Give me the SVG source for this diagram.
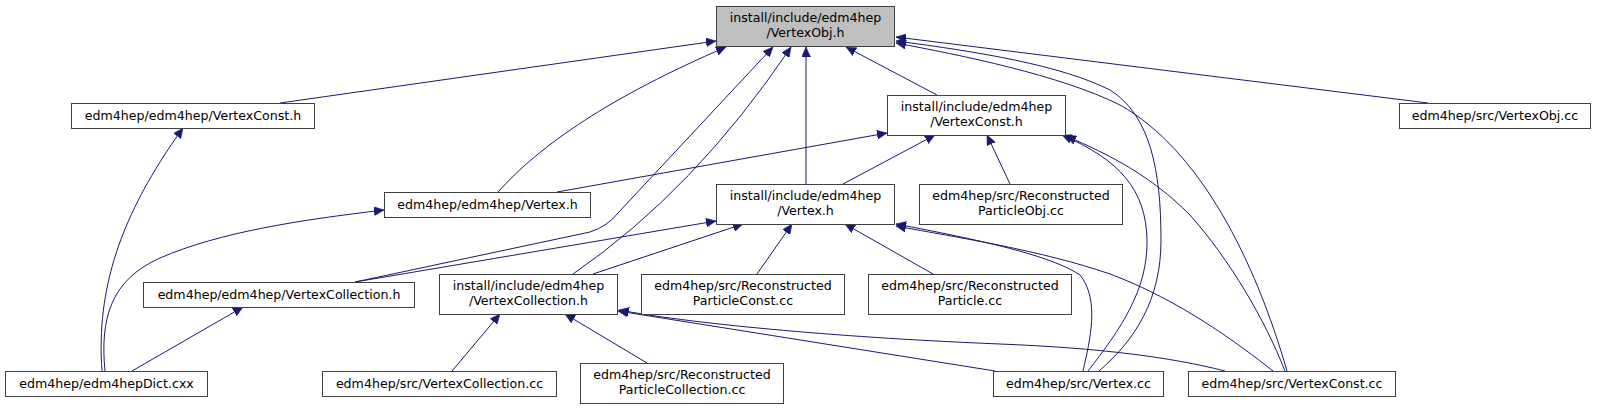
<svg xmlns="http://www.w3.org/2000/svg" width="1597" height="409" viewBox="0 0 1597 409">
<defs>
<style>
.node rect{fill:#ffffff;stroke:#404040;stroke-width:1}
.node.hl rect{fill:#bfbfbf}
.node text{font-family:"DejaVu Sans","Liberation Sans",sans-serif;font-size:12.6px;text-anchor:middle;fill:#000000}
.edge{fill:none;stroke:#191970;stroke-width:1;marker-end:url(#ah)}
</style>
<marker id="ah" viewBox="0 0 10 9" refX="10" refY="4.5" markerWidth="10" markerHeight="9" markerUnits="userSpaceOnUse" orient="auto">
<path d="M0,0 L10,4.5 L0,9 z" fill="#191970" stroke="#191970" stroke-width="0.5"/>
</marker>
</defs>
<rect x="0" y="0" width="1597" height="409" fill="#ffffff"/>
<g id="connectors">
<path class="edge" d="M280,103 L716,41"/>
<path class="edge" d="M498,192 C540,145 610,97 726,47"/>
<path class="edge" d="M355,282 L590,232 Q608,226 618,213 L773,47"/>
<path class="edge" d="M573,274 Q695,190 791,47"/>
<path class="edge" d="M806,184 L806,47"/>
<path class="edge" d="M937,95 L846,47"/>
<path class="edge" d="M1099,371 C1135,340 1161,300 1161,240 C1161,170 1150,115 1110,90 C1060,65 980,52 896,41"/>
<path class="edge" d="M1287,371 C1255,260 1200,150 1120,105 C1060,75 960,55 896,43"/>
<path class="edge" d="M1428,103 L896,37"/>
<path class="edge" d="M557,192 L887,133"/>
<path class="edge" d="M843,184 L935,135"/>
<path class="edge" d="M1010,184 L987,135"/>
<path class="edge" d="M1088,371 C1120,330 1148,290 1147,240 C1146,190 1120,160 1062,135"/>
<path class="edge" d="M1285,371 C1265,320 1230,260 1190,215 C1150,175 1110,155 1066,136"/>
<path class="edge" d="M102,371 C96,290 120,215 183,128"/>
<path class="edge" d="M105,371 C100,320 110,280 160,258 C220,232 300,220 384,210"/>
<path class="edge" d="M355,282 L716,221"/>
<path class="edge" d="M593,274 L743,224"/>
<path class="edge" d="M757,274 L792,224"/>
<path class="edge" d="M933,274 L845,224"/>
<path class="edge" d="M1083,371 C1090,340 1100,300 1080,275 C1050,255 980,240 896,224"/>
<path class="edge" d="M1273,371 C1240,345 1180,300 1110,274 C1040,250 960,238 896,226"/>
<path class="edge" d="M132,371 L243,307"/>
<path class="edge" d="M452,371 L500,314"/>
<path class="edge" d="M647,363 L565,314"/>
<path class="edge" d="M995,371 L618,311"/>
<path class="edge" d="M1225,371 C1170,357 1100,348 1000,344 C850,338 700,325 619,310"/>
</g>
<g id="n0" class="node hl"><rect x="716.5" y="6.5" width="178" height="40"/><text x="805.5" y="22">install/include/edm4hep</text><text x="805.5" y="37">/VertexObj.h</text></g>
<g id="n1" class="node"><rect x="71.5" y="103.5" width="243" height="25"/><text x="193" y="120">edm4hep/edm4hep/VertexConst.h</text></g>
<g id="n2" class="node"><rect x="887.5" y="95.5" width="178" height="40"/><text x="976.5" y="111">install/include/edm4hep</text><text x="976.5" y="126">/VertexConst.h</text></g>
<g id="n3" class="node"><rect x="1399.5" y="103.5" width="191" height="25"/><text x="1495" y="120">edm4hep/src/VertexObj.cc</text></g>
<g id="n4" class="node"><rect x="384.5" y="192.5" width="206" height="25"/><text x="487.5" y="209">edm4hep/edm4hep/Vertex.h</text></g>
<g id="n5" class="node"><rect x="716.5" y="184.5" width="178" height="40"/><text x="805.5" y="200">install/include/edm4hep</text><text x="805.5" y="215">/Vertex.h</text></g>
<g id="n6" class="node"><rect x="919.5" y="184.5" width="203" height="40"/><text x="1021" y="200">edm4hep/src/Reconstructed</text><text x="1021" y="215">ParticleObj.cc</text></g>
<g id="n7" class="node"><rect x="143.5" y="282.5" width="271" height="25"/><text x="279" y="299">edm4hep/edm4hep/VertexCollection.h</text></g>
<g id="n8" class="node"><rect x="439.5" y="274.5" width="178" height="40"/><text x="528.5" y="290">install/include/edm4hep</text><text x="528.5" y="305">/VertexCollection.h</text></g>
<g id="n9" class="node"><rect x="641.5" y="274.5" width="203" height="40"/><text x="743" y="290">edm4hep/src/Reconstructed</text><text x="743" y="305">ParticleConst.cc</text></g>
<g id="n10" class="node"><rect x="868.5" y="274.5" width="203" height="40"/><text x="970" y="290">edm4hep/src/Reconstructed</text><text x="970" y="305">Particle.cc</text></g>
<g id="n11" class="node"><rect x="5.5" y="371.5" width="202" height="25"/><text x="106.5" y="388">edm4hep/edm4hepDict.cxx</text></g>
<g id="n12" class="node"><rect x="322.5" y="371.5" width="234" height="25"/><text x="439.5" y="388">edm4hep/src/VertexCollection.cc</text></g>
<g id="n13" class="node"><rect x="580.5" y="363.5" width="203" height="40"/><text x="682" y="379">edm4hep/src/Reconstructed</text><text x="682" y="394">ParticleCollection.cc</text></g>
<g id="n14" class="node"><rect x="993.5" y="371.5" width="170" height="25"/><text x="1078.5" y="388">edm4hep/src/Vertex.cc</text></g>
<g id="n15" class="node"><rect x="1188.5" y="371.5" width="207" height="25"/><text x="1292" y="388">edm4hep/src/VertexConst.cc</text></g>
</svg>
